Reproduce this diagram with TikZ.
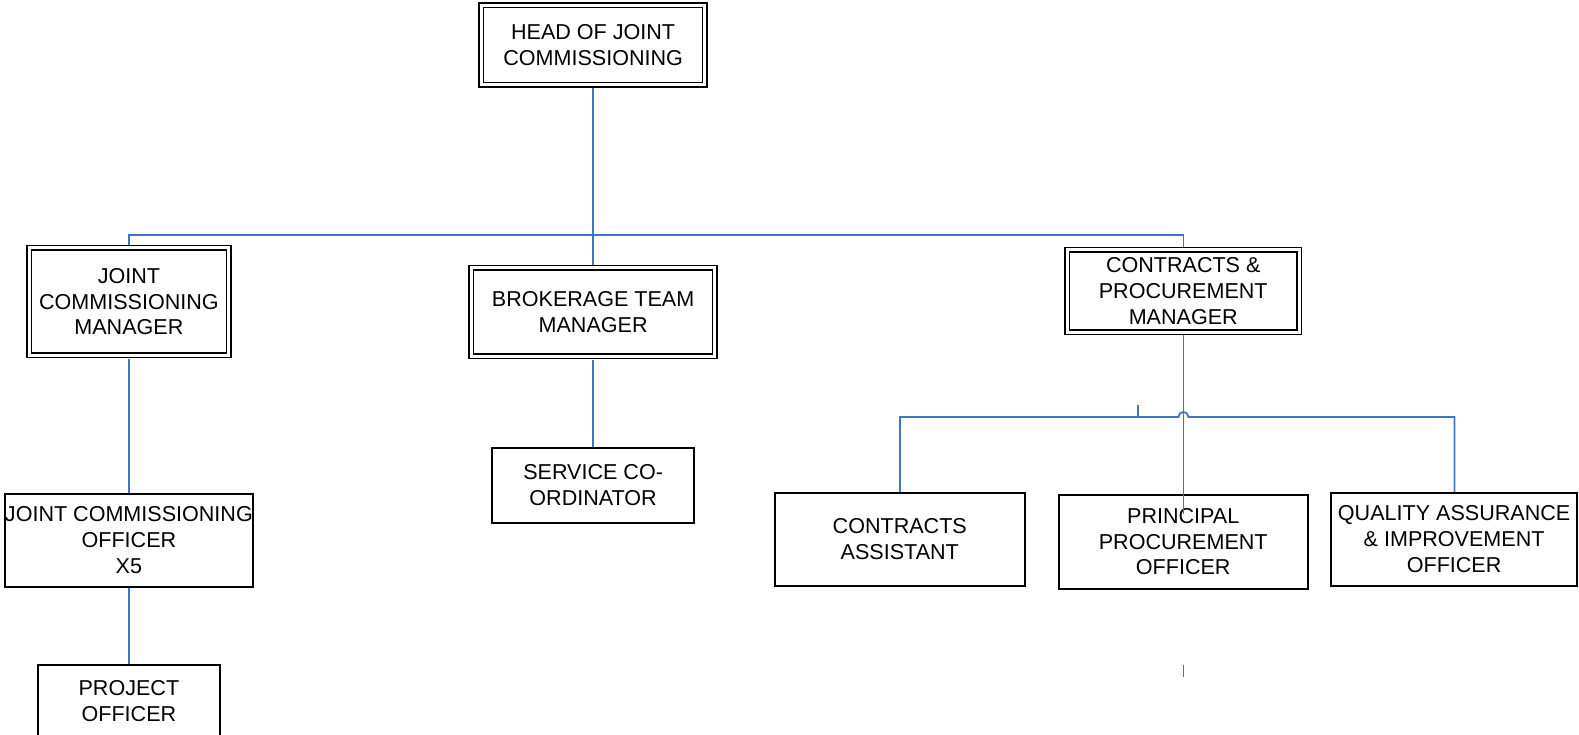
\documentclass[tikz,border=0pt]{standalone}
\usepackage{fontspec}
\setmainfont{Liberation Sans}
\definecolor{connblue}{RGB}{68,114,196}
\begin{document}
\begin{tikzpicture}[x=0.5pt,y=-0.5pt,
  every node/.style={font=\fontsize{10.7}{12.8}\selectfont, align=center, inner sep=0pt},
  box/.style={draw=black, line width=1pt, rectangle, outer sep=0.5pt},
  dbox/.style={draw=black, line width=0.75pt, double, double distance=1.5pt, rectangle, outer sep=1.5pt},
  conn/.style={draw=connblue, line width=0.9pt}]
\useasboundingbox (0,0) rectangle (1579,734);
\clip (0,0) rectangle (1579,734);
\fill[white] (0,0) rectangle (1579,734);

\begin{scope}[scale=1.007, transform shape]
% nodes
\node[dbox, minimum width=111pt, minimum height=39.5pt] (head) at (589,44.5) {HEAD OF JOINT\\COMMISSIONING};
\node[dbox, minimum width=99pt, minimum height=53.5pt] (jcm) at (128,299.5) {JOINT\\COMMISSIONING\\MANAGER};
\node[dbox, minimum width=121pt, minimum height=44pt] (bk) at (589,310) {BROKERAGE TEAM\\MANAGER};
\node[dbox, minimum width=115pt, minimum height=41pt] (cp) at (1175,289) {CONTRACTS \&\\PROCUREMENT\\MANAGER};

\node[box, minimum width=100.5pt, minimum height=37pt] (sc) at (589,482) {SERVICE CO-\\ORDINATOR};
\node[box, minimum width=123.5pt, minimum height=46pt] (jco) at (128,536.5) {JOINT COMMISSIONING\\OFFICER\\X5};
\node[box, minimum width=124pt, minimum height=46pt] (ca) at (893.5,535.5) {CONTRACTS\\ASSISTANT};
\node[box, minimum width=123.5pt, minimum height=46.5pt] (pp) at (1175,538) {PRINCIPAL\\PROCUREMENT\\OFFICER};
\node[box, minimum width=122.5pt, minimum height=46pt] (qa) at (1444,535.5) {QUALITY ASSURANCE\\\& IMPROVEMENT\\OFFICER};
\node[box, minimum width=90pt, minimum height=50pt] (po) at (128,710) {};
\node (potxt) at (128,696) {PROJECT\\OFFICER};

% connectors
\coordinate (bus) at (589,233);
\coordinate (ppstub) at (1175,510);
\coordinate (hop) at (1170,414);
\coordinate (tickA) at (1130,414);
\coordinate (tickB) at (1175,660);

\draw[conn] (head.south) -- (bk.north);
\draw[conn] (jcm.north) |- (bus) -| (cp.north);
\draw[conn] (jcm.south) -- (jco.north);
\draw[conn] (jco.south) -- (po.north);
\draw[conn] (bk.south) -- (sc.north);
\draw[conn] (cp.south) -- (ppstub);
\draw[conn] (ca.north) |- (hop) arc[start angle=180, end angle=0, radius=2.5pt] -| (qa.north);
\draw[conn] (tickA) -- ++(0,-12);
\draw[conn] (tickB) -- ++(0,12);
\end{scope}
\end{tikzpicture}
\end{document}
